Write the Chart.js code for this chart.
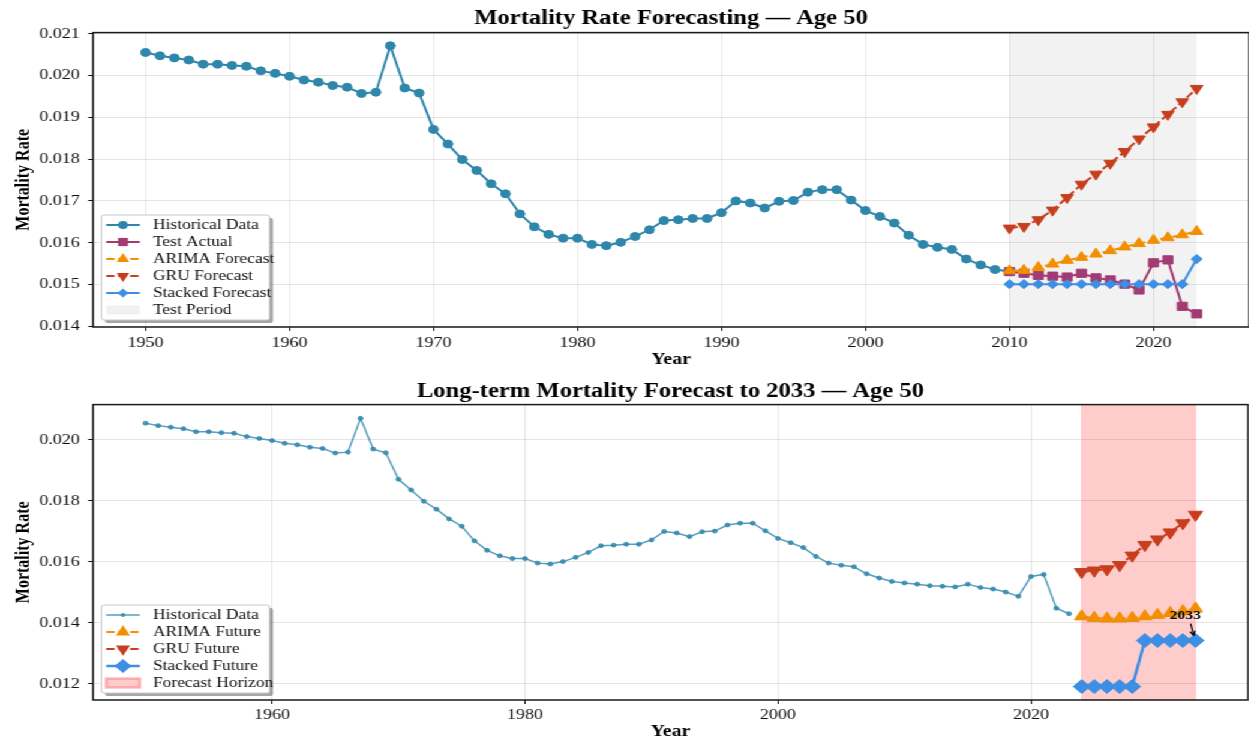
<!DOCTYPE html>
<html>
<head>
<meta charset="utf-8">
<script src="https://cdn.jsdelivr.net/npm/chart.js@4.4.0/dist/chart.umd.min.js"></script>
<style>
  html, body { margin: 0; padding: 0; background: #fff; overflow: hidden; }
  /* the reference figure is stretched sideways, so the charts are drawn narrower and scaled */
  #wrap { width: 1048px; height: 742px; transform: scaleX(1.2); transform-origin: 0 0; }
  .panel { position: relative; width: 1048px; }
</style>
</head>
<body>
<div id="wrap">
  <div class="panel" style="height:370px"><canvas id="testChart"></canvas></div>
  <div class="panel" style="height:372px"><canvas id="futureChart"></canvas></div>
</div>
<script>
// ---- data ----
const trainYears = [1950, 1951, 1952, 1953, 1954, 1955, 1956, 1957, 1958, 1959,
  1960, 1961, 1962, 1963, 1964, 1965, 1966, 1967, 1968, 1969,
  1970, 1971, 1972, 1973, 1974, 1975, 1976, 1977, 1978, 1979,
  1980, 1981, 1982, 1983, 1984, 1985, 1986, 1987, 1988, 1989,
  1990, 1991, 1992, 1993, 1994, 1995, 1996, 1997, 1998, 1999,
  2000, 2001, 2002, 2003, 2004, 2005, 2006, 2007, 2008, 2009];
const trainRates = [0.02055, 0.02047, 0.02042, 0.02037, 0.02027, 0.02027, 0.02024, 0.02022, 0.02011, 0.02005,
  0.01998, 0.01989, 0.01984, 0.01976, 0.01972, 0.01957, 0.01960, 0.02071, 0.01970, 0.01958,
  0.01871, 0.01836, 0.01799, 0.01773, 0.01741, 0.01717, 0.01669, 0.01638, 0.01620, 0.01611,
  0.01611, 0.01596, 0.01593, 0.01601, 0.01615, 0.01631, 0.01653, 0.01655, 0.01658, 0.01658,
  0.01672, 0.01700, 0.01695, 0.01683, 0.01699, 0.01701, 0.01721, 0.01727, 0.01727, 0.01702,
  0.01677, 0.01663, 0.01647, 0.01618, 0.01596, 0.01589, 0.01584, 0.01561, 0.01547, 0.01536];

const testYears = [2010, 2011, 2012, 2013, 2014, 2015, 2016, 2017, 2018, 2019, 2020, 2021, 2022, 2023];
const testRates = [0.01531, 0.01527, 0.01522, 0.01520, 0.01518, 0.01527, 0.01516, 0.01511, 0.01501, 0.01487, 0.01552, 0.01559, 0.01448, 0.01430];
const arimaTest = [0.01533, 0.01534, 0.01541, 0.01549, 0.01558, 0.01565, 0.01573, 0.01581, 0.01590, 0.01598, 0.01606, 0.01612, 0.01619, 0.01627];
const gruTest = [0.01635, 0.01639, 0.01655, 0.01678, 0.01708, 0.01740, 0.01764, 0.01790, 0.01818, 0.01848, 0.01877, 0.01907, 0.01937, 0.01969];
const stackedTest = [0.01501, 0.01501, 0.01501, 0.01501, 0.01501, 0.01501, 0.01501, 0.01501, 0.01501, 0.01501, 0.01501, 0.01501, 0.01501, 0.01561];

const futureYears = [2024, 2025, 2026, 2027, 2028, 2029, 2030, 2031, 2032, 2033];
const arimaFuture = [0.01421, 0.01416, 0.01414, 0.01414, 0.01416, 0.01421, 0.01426, 0.01432, 0.01438, 0.01447];
const gruFuture = [0.01567, 0.01572, 0.01576, 0.01590, 0.01621, 0.01656, 0.01674, 0.01697, 0.01727, 0.01755];
const stackedFuture = [0.01191, 0.01191, 0.01191, 0.01191, 0.01191, 0.01342, 0.01342, 0.01342, 0.01342, 0.01342];

const topXTicks = [1950, 1960, 1970, 1980, 1990, 2000, 2010, 2020];
const topYTicks = [0.014, 0.015, 0.016, 0.017, 0.018, 0.019, 0.020, 0.021];
const bottomXTicks = [1960, 1980, 2000, 2020];
const bottomYTicks = [0.012, 0.014, 0.016, 0.018, 0.020];

const SERIF = "'Liberation Serif', 'Times New Roman', serif";
const colors = {
  hist: "#2E86AB",
  histLight: "rgba(46,134,171,0.8)",
  test: "#A23B72",
  arima: "#F18F01",
  gru: "#C73E1D",
  stacked: "#3C8FE3",
};

function toPoints(xs, ys) {
  return xs.map((x, i) => ({ x: x, y: ys[i] }));
}

// marker shapes used by the legend handles (same shapes as the chart points)
function drawMarker(ctx, style, x, y, r, rotation) {
  ctx.beginPath();
  if (style === "circle") {
    ctx.arc(x, y, r, 0, Math.PI * 2);
  } else if (style === "rect") {
    const s = r * Math.SQRT1_2;
    ctx.rect(x - s, y - s, 2 * s, 2 * s);
  } else if (style === "rectRot") {
    ctx.moveTo(x, y - r);
    ctx.lineTo(x + r, y);
    ctx.lineTo(x, y + r);
    ctx.lineTo(x - r, y);
  } else if (style === "triangle") {
    let a = (rotation || 0) * Math.PI / 180;
    for (let k = 0; k < 3; k++) {
      const px = x + Math.sin(a) * r;
      const py = y - Math.cos(a) * r;
      if (k === 0) ctx.moveTo(px, py); else ctx.lineTo(px, py);
      a += Math.PI * 2 / 3;
    }
  }
  ctx.closePath();
  ctx.fill();
}

// shaded period (axvspan)
const spanPlugin = {
  id: "span",
  beforeDatasetsDraw(chart, args, opts) {
    const { ctx, chartArea, scales } = chart;
    const x0 = scales.x.getPixelForValue(opts.from);
    const x1 = scales.x.getPixelForValue(opts.to);
    ctx.save();
    ctx.fillStyle = opts.fill;
    ctx.fillRect(x0, chartArea.top, x1 - x0, chartArea.bottom - chartArea.top);
    if (opts.edge) {
      ctx.strokeStyle = opts.edge;
      ctx.lineWidth = 1;
      ctx.strokeRect(x0, chartArea.top, x1 - x0, chartArea.bottom - chartArea.top);
    }
    ctx.restore();
  },
};

// box round the plot area
const framePlugin = {
  id: "frame",
  afterDraw(chart) {
    const { ctx, chartArea } = chart;
    ctx.save();
    ctx.strokeStyle = "#1a1a1a";
    ctx.lineWidth = 1.5;
    ctx.strokeRect(chartArea.left, chartArea.top, chartArea.right - chartArea.left, chartArea.bottom - chartArea.top);
    ctx.restore();
  },
};

// matplotlib style legend in the lower left, with shadow
const boxLegendPlugin = {
  id: "boxLegend",
  afterDraw(chart, args, opts) {
    const { ctx, chartArea } = chart;
    const items = opts.items;
    const rowH = 17;
    const w = 140;
    const h = rowH * items.length + 3;
    const left = chartArea.left + 7;
    const top = chartArea.bottom - 7 - h;

    ctx.save();
    ctx.fillStyle = "rgba(0,0,0,0.35)";
    ctx.beginPath();
    ctx.roundRect(left + 3, top + 3, w, h, 2);
    ctx.fill();
    ctx.fillStyle = "#fff";
    ctx.strokeStyle = "#c8c8c8";
    ctx.lineWidth = 1;
    ctx.beginPath();
    ctx.roundRect(left, top, w, h, 2);
    ctx.fill();
    ctx.stroke();

    items.forEach((item, i) => {
      const y = top + 10 + i * rowH;
      const x0 = left + 4;
      const x1 = left + 32;
      if (item.patch) {
        ctx.fillStyle = item.patch;
        ctx.fillRect(x0, y - 4.5, x1 - x0, 9);
        if (item.edge) {
          ctx.strokeStyle = item.edge;
          ctx.strokeRect(x0, y - 4.5, x1 - x0, 9);
        }
      } else {
        ctx.strokeStyle = item.color;
        ctx.lineWidth = item.lineWidth;
        ctx.setLineDash(item.dash || []);
        ctx.beginPath();
        ctx.moveTo(x0, y);
        ctx.lineTo(x1, y);
        ctx.stroke();
        ctx.setLineDash([]);
        ctx.fillStyle = item.color;
        drawMarker(ctx, item.style, (x0 + x1) / 2, y, item.radius, item.rotation);
      }
      ctx.fillStyle = "#111";
      ctx.font = "14.5px " + SERIF;
      ctx.textAlign = "left";
      ctx.textBaseline = "middle";
      ctx.fillText(item.label, left + 43, y);
    });
    ctx.restore();
  },
};

// "2033" label with an arrow to the last stacked point
const notePlugin = {
  id: "note",
  afterDraw(chart, args, opts) {
    if (!opts.text) return;
    const { ctx, scales } = chart;
    const px = scales.x.getPixelForValue(opts.x);
    const py = scales.y.getPixelForValue(opts.y);
    ctx.save();
    ctx.fillStyle = "#000";
    ctx.font = "bold 13px " + SERIF;
    ctx.textAlign = "center";
    ctx.textBaseline = "middle";
    ctx.fillText(opts.text, px - 8.5, py - 25);
    const sx = px - 4, sy = py - 17, ex = px - 1.5, ey = py - 5;
    ctx.strokeStyle = "#000";
    ctx.lineWidth = 1.2;
    ctx.beginPath();
    ctx.moveTo(sx, sy);
    ctx.lineTo(ex, ey);
    ctx.stroke();
    const ang = Math.atan2(ey - sy, ex - sx);
    ctx.beginPath();
    ctx.moveTo(ex, ey);
    ctx.lineTo(ex - 5 * Math.cos(ang - 0.45), ey - 5 * Math.sin(ang - 0.45));
    ctx.moveTo(ex, ey);
    ctx.lineTo(ex - 5 * Math.cos(ang + 0.45), ey - 5 * Math.sin(ang + 0.45));
    ctx.stroke();
    ctx.restore();
  },
};

function lineSet(label, points, color, opts) {
  return {
    label: label,
    data: points,
    borderColor: color,
    backgroundColor: color,
    pointBackgroundColor: color,
    pointBorderColor: color,
    borderWidth: opts.width || 2,
    borderDash: opts.dash || [],
    pointStyle: opts.style,
    pointRadius: opts.radius,
    pointRotation: opts.rotation || 0,
    pointBorderWidth: 1,
    tension: 0,
    fill: false,
  };
}

function scaleOptions(cfg) {
  return {
    x: {
      type: "linear",
      min: cfg.xMin,
      max: cfg.xMax,
      afterBuildTicks: (axis) => { axis.ticks = cfg.xTicks.map((v) => ({ value: v })); },
      afterFit: (axis) => {
        axis.height = cfg.xHeight;
        axis.paddingLeft = 0;
        axis.paddingRight = 0;
      },
      ticks: {
        autoSkip: false,
        maxRotation: 0,
        padding: cfg.xPad,
        color: "#111",
        font: { family: SERIF, size: 15 },
        callback: (v) => String(v),
      },
      grid: { color: "rgba(0,0,0,0.1)", lineWidth: 1, tickLength: 4, tickColor: "#111" },
      border: { display: false },
      title: {
        display: true,
        text: "Year",
        color: "#000",
        font: { family: SERIF, size: 16.5, weight: "bold" },
        padding: { top: 0, bottom: 0 },
      },
    },
    y: {
      min: cfg.yMin,
      max: cfg.yMax,
      afterBuildTicks: (axis) => { axis.ticks = cfg.yTicks.map((v) => ({ value: v })); },
      afterFit: (axis) => {
        axis.width = 77.5;
        axis.paddingTop = 0;
        axis.paddingBottom = 0;
      },
      ticks: {
        padding: 7,
        color: "#111",
        font: { family: SERIF, size: 15 },
        callback: (v) => v.toFixed(3),
      },
      grid: { color: "rgba(0,0,0,0.1)", lineWidth: 1, tickLength: 4, tickColor: "#111" },
      border: { display: false },
      title: {
        display: true,
        text: "Mortality Rate",
        color: "#000",
        font: { family: SERIF, size: 16, weight: "bold" },
        padding: { top: 10, bottom: 0 },
      },
    },
  };
}

// ---- top panel: test period ----
const topSets = [
  lineSet("Historical Data", toPoints(trainYears.concat([testYears[0]]), trainRates.concat([testRates[0]])), colors.hist, { style: "circle", radius: 4 }),
  lineSet("Test Actual", toPoints(testYears, testRates), colors.test, { style: "rect", radius: 5.8 }),
  lineSet("ARIMA Forecast", toPoints(testYears, arimaTest), colors.arima, { style: "triangle", radius: 6, dash: [7, 3] }),
  lineSet("GRU Forecast", toPoints(testYears, gruTest), colors.gru, { style: "triangle", radius: 6, rotation: 180, dash: [7, 3] }),
  lineSet("Stacked Forecast", toPoints(testYears, stackedTest), colors.stacked, { style: "rectRot", radius: 4.6 }),
];
topSets.forEach((d, i) => { d.order = topSets.length - i; });

new Chart(document.getElementById("testChart"), {
  type: "line",
  data: { datasets: topSets },
  plugins: [spanPlugin, framePlugin, boxLegendPlugin],
  options: {
    responsive: true,
    maintainAspectRatio: false,
    animation: false,
    events: [],
    layout: { padding: { left: 0, right: 1, top: 0, bottom: 0 } },
    scales: scaleOptions({
      xMin: 1946.35, xMax: 2026.65, xTicks: topXTicks, xHeight: 43, xPad: 3,
      yMin: 0.013985, yMax: 0.021025, yTicks: topYTicks,
    }),
    plugins: {
      legend: { display: false },
      tooltip: { enabled: false },
      title: {
        display: true,
        fullSize: false,
        text: "Mortality Rate Forecasting \u2014 Age 50",
        color: "#000",
        font: { family: SERIF, size: 20.5, weight: "bold" },
        padding: { top: 6, bottom: 2 },
      },
      span: { from: 2010, to: 2023, fill: "rgba(128,128,128,0.1)" },
      boxLegend: {
        items: [
          { label: "Historical Data", color: colors.hist, lineWidth: 2, style: "circle", radius: 4 },
          { label: "Test Actual", color: colors.test, lineWidth: 2, style: "rect", radius: 5.8 },
          { label: "ARIMA Forecast", color: colors.arima, lineWidth: 2, style: "triangle", radius: 6, dash: [7, 3] },
          { label: "GRU Forecast", color: colors.gru, lineWidth: 2, style: "triangle", radius: 6, rotation: 180, dash: [7, 3] },
          { label: "Stacked Forecast", color: colors.stacked, lineWidth: 2, style: "rectRot", radius: 4.6 },
          { label: "Test Period", patch: "rgba(128,128,128,0.12)" },
        ],
      },
    },
  },
});

// ---- bottom panel: forecast to 2033 ----
const bottomSets = [
  lineSet("Historical Data", toPoints(trainYears.concat(testYears), trainRates.concat(testRates)), colors.histLight, { style: "circle", radius: 2, width: 1.5 }),
  lineSet("ARIMA Future", toPoints(futureYears, arimaFuture), colors.arima, { style: "triangle", radius: 6.8, dash: [7, 3] }),
  lineSet("GRU Future", toPoints(futureYears, gruFuture), colors.gru, { style: "triangle", radius: 6.8, rotation: 180, dash: [7, 3] }),
  lineSet("Stacked Future", toPoints(futureYears, stackedFuture), colors.stacked, { style: "rectRot", radius: 7, width: 2.5 }),
];
bottomSets.forEach((d, i) => { d.order = bottomSets.length - i; });

new Chart(document.getElementById("futureChart"), {
  type: "line",
  data: { datasets: bottomSets },
  plugins: [spanPlugin, framePlugin, boxLegendPlugin, notePlugin],
  options: {
    responsive: true,
    maintainAspectRatio: false,
    animation: false,
    events: [],
    layout: { padding: { left: 0, right: 1, top: 0, bottom: 0 } },
    scales: scaleOptions({
      xMin: 1945.85, xMax: 2037.15, xTicks: bottomXTicks, xHeight: 42, xPad: 2,
      yMin: 0.01147, yMax: 0.02116, yTicks: bottomYTicks,
    }),
    plugins: {
      legend: { display: false },
      tooltip: { enabled: false },
      title: {
        display: true,
        fullSize: false,
        text: "Long-term Mortality Forecast to 2033 \u2014 Age 50",
        color: "#000",
        font: { family: SERIF, size: 20.5, weight: "bold" },
        padding: { top: 9, bottom: 1 },
      },
      span: { from: futureYears[0], to: futureYears[futureYears.length - 1], fill: "rgba(255,0,0,0.2)", edge: "rgba(255,0,0,0.15)" },
      boxLegend: {
        items: [
          { label: "Historical Data", color: colors.histLight, lineWidth: 1.5, style: "circle", radius: 2 },
          { label: "ARIMA Future", color: colors.arima, lineWidth: 2, style: "triangle", radius: 6.8, dash: [7, 3] },
          { label: "GRU Future", color: colors.gru, lineWidth: 2, style: "triangle", radius: 6.8, rotation: 180, dash: [7, 3] },
          { label: "Stacked Future", color: colors.stacked, lineWidth: 2.5, style: "rectRot", radius: 7 },
          { label: "Forecast Horizon", patch: "rgba(255,0,0,0.2)", edge: "rgba(255,0,0,0.25)" },
        ],
      },
      note: {
        text: String(futureYears[futureYears.length - 1]),
        x: futureYears[futureYears.length - 1],
        y: stackedFuture[stackedFuture.length - 1],
      },
    },
  },
});
</script>
</body>
</html>
